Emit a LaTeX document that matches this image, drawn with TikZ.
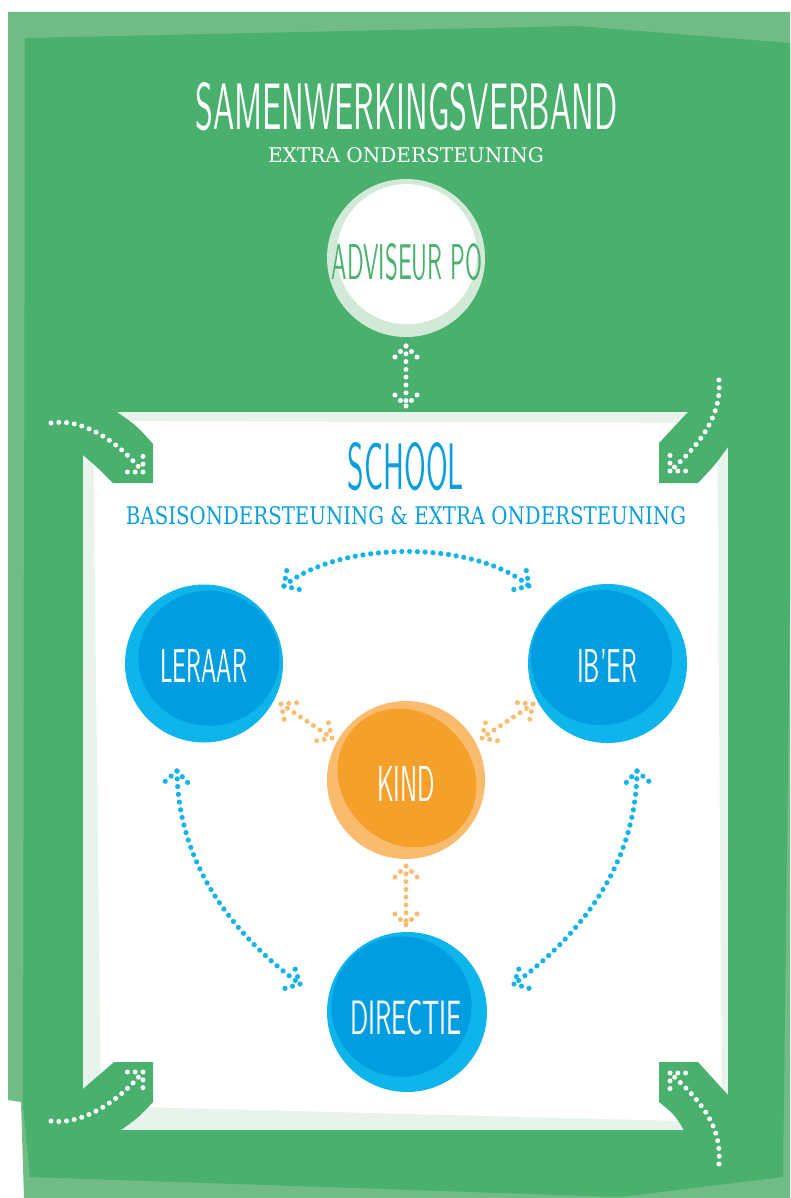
\documentclass[tikz,border=0pt]{standalone}
\usepackage{graphicx}
\usepackage{fontspec}
\newfontfamily\slabfont{DejaVu Serif}
\usetikzlibrary{calc}
\definecolor{outerg}{HTML}{70BB86}
\definecolor{darkg}{HTML}{4AB06D}
\definecolor{tintg}{HTML}{E8F3EB}
\definecolor{ringg}{HTML}{D3E9D8}
\definecolor{textg}{HTML}{4BB06E}
\definecolor{bluering}{HTML}{0DB5EB}
\definecolor{bluein}{HTML}{009EE0}
\definecolor{bluetxt}{HTML}{0A9EDE}
\definecolor{bluedot}{HTML}{10B4EA}
\definecolor{orring}{HTML}{F9BC6E}
\definecolor{orin}{HTML}{F5A02A}
\definecolor{ordot}{HTML}{F9BD70}
\tikzset{
  wdots/.style={white, line width=5pt, line cap=round, dash pattern=on 0pt off 7.8pt},
  bdots/.style={wdots, draw=bluedot, line width=5.2pt},
  odots/.style={wdots, draw=ordot},
  lbl/.style={inner sep=0pt, outer sep=0pt},
  bubble/.style={circle, inner sep=0pt, outer sep=0pt, minimum size=#1},
}
\newcommand{\arrhd}[4]{\draw[#1] (#2) -- ++(#3:22) (#2) -- ++(#4:22);}
% colour, centre, radius expression
\newcommand{\blobfill}[3]{\fill[#1, shift={(#2)}] plot[domain=0:355, samples=72, smooth cycle] (\x:{#3});}
\begin{document}
\begin{tikzpicture}[x=1pt,y=-1pt]
\useasboundingbox (0,0) rectangle (790,1198);
% frame
\fill[outerg] (8,12) -- (790,12) -- (790,1198) -- (24,1198) -- (21,1102) -- (8,1100) -- cycle;
\fill[darkg] (25,38) -- (577,26) -- (790,43) -- (790,600) -- (783,1177) -- (620,1197) -- (30,1177) -- (23,1105) -- cycle;
% school box
\fill[tintg] (83,412) -- (728,412) -- (728,1130) -- (83,1130) -- cycle;
\fill[white] (93,421) -- (717,423) -- (722,1122) -- (101,1106) -- cycle;
% corner tabs
\fill[darkg] (78,412) -- (117,412) .. controls (137,426) .. (153,444) -- (153,483) -- (113,483) .. controls (98,468) .. (83,455) -- (78,455) -- cycle;
\fill[darkg] (659,483) -- (659,443) -- (688,412) -- (732,412) -- (732,447) -- (728,447) .. controls (715,465) .. (698,483) -- cycle;
\fill[darkg] (78,1089) -- (83,1089) -- (114,1062) -- (153,1062) -- (153,1102) .. controls (138,1118) .. (118,1132) -- (78,1132) -- cycle;
\fill[darkg] (659,1062) -- (698,1062) -- (728,1095) -- (732,1095) -- (732,1132) -- (685,1132) .. controls (675,1115) .. (659,1102) -- cycle;
% corner arrows
\coordinate (tlS) at (51,423); \coordinate (tlT) at (143,472);
\coordinate (trS) at (719,380); \coordinate (trT) at (670,471);
\coordinate (blS) at (51,1121); \coordinate (blT) at (143,1072);
\coordinate (brS) at (719,1164); \coordinate (brT) at (670,1073);
\draw[wdots] (tlS) .. controls (80,418) and (115,438) .. (tlT);
\arrhd{wdots}{tlT}{180}{270}
\draw[wdots] (trS) .. controls (722,415) and (700,445) .. (trT);
\arrhd{wdots}{trT}{0}{270}
\draw[wdots] (blS) .. controls (80,1125) and (115,1105) .. (blT);
\arrhd{wdots}{blT}{180}{90}
\draw[wdots] (brS) .. controls (722,1125) and (700,1100) .. (brT);
\arrhd{wdots}{brT}{0}{90}
% titles
\node[lbl, white] (title) at (406.5,106.5) {\resizebox{422pt}{47pt}{\sffamily SAMENWERKINGSVERBAND}};
\node[lbl, white] (sub1) at (406,155.5) {\resizebox{276pt}{15pt}{\slabfont EXTRA ONDERSTEUNING}};
% adviseur
\node[bubble=158pt, fill=ringg] (adv) at (406,258) {};
\blobfill{white}{404,257}{70+4*cos(\x-315)}
\node[lbl, textg] (advt) at (407,262) {\resizebox{150pt}{36pt}{\sffamily ADVISEUR PO}};
\coordinate (advA) at (406,346); \coordinate (advB) at (406,406);
\draw[wdots] (advA) -- (advB);
\arrhd{wdots}{advA}{135}{45}
\arrhd{wdots}{advB}{225}{315}
% school titles
\node[lbl, bluetxt] (school) at (406,467) {\resizebox{116pt}{47pt}{\sffamily SCHOOL}};
\node[lbl, bluetxt] (sub2) at (406,516) {\resizebox{560pt}{18pt}{\slabfont BASISONDERSTEUNING \& EXTRA ONDERSTEUNING}};
% bubbles
\node[bubble=158pt, fill=bluering] (leraar) at (204,663.5) {};
\blobfill{bluein}{206,661}{69+4*cos(\x-315)+1.5*cos(2*\x)}
\node[lbl, white] (leraart) at (203.5,665.5) {\resizebox{87pt}{33pt}{\sffamily LERAAR}};
\node[bubble=159pt, fill=bluering] (iber) at (607.5,663.5) {};
\blobfill{bluein}{605,661}{69+5*cos(\x-225)+1.5*cos(2*\x)}
\node[lbl, white] (ibert) at (607,665.5) {\resizebox{60pt}{33pt}{\sffamily IB'ER}};
\node[bubble=158pt, fill=orring] (kind) at (406,780) {};
\blobfill{orin}{407,778}{69+4*cos(2*(\x-45))}
\node[lbl, white] (kindt) at (406,783.5) {\resizebox{58pt}{35pt}{\sffamily KIND}};
\node[bubble=160pt, fill=bluering] (directie) at (407,1012) {};
\blobfill{bluein}{405,1010}{70+5*cos(\x-225)}
\node[lbl, white] (directiet) at (406,1018) {\resizebox{112pt}{34pt}{\sffamily DIRECTIE}};
% blue arrows
\coordinate (topL) at (284,586); \coordinate (topR) at (529,586);
\draw[bdots] (topL) .. controls (340,540) and (474,540) .. (topR);
\arrhd{bdots}{topL}{280}{13}
\arrhd{bdots}{topR}{260}{167}
\coordinate (lfT) at (177,771); \coordinate (lfB) at (300,984);
\draw[bdots] (lfT) .. controls (178,870) and (240,940) .. (lfB);
\arrhd{bdots}{lfT}{139}{47}
\arrhd{bdots}{lfB}{252}{164}
\coordinate (rtT) at (637,771); \coordinate (rtB) at (514,984);
\draw[bdots] (rtT) .. controls (636,870) and (574,940) .. (rtB);
\arrhd{bdots}{rtT}{41}{133}
\arrhd{bdots}{rtB}{288}{16}
% orange arrows
\coordinate (olA) at (281,704); \coordinate (olB) at (332,738);
\draw[odots] (olA) -- (olB);
\arrhd{odots}{olA}{355}{78}
\arrhd{odots}{olB}{257}{170}
\coordinate (orA) at (533,704); \coordinate (orB) at (482,738);
\draw[odots] (orA) -- (orB);
\arrhd{odots}{orA}{185}{102}
\arrhd{odots}{orB}{283}{10}
\coordinate (ovA) at (406,866); \coordinate (ovB) at (406,925);
\draw[odots] (ovA) -- (ovB);
\arrhd{odots}{ovA}{135}{45}
\arrhd{odots}{ovB}{225}{315}
\end{tikzpicture}
\end{document}
